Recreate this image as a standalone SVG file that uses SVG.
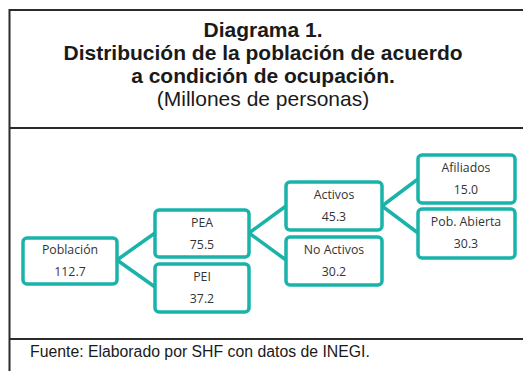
<svg xmlns="http://www.w3.org/2000/svg" width="523" height="371" viewBox="0 0 523 371">
<style>
.frame{fill:none;stroke:#2b2b2b;stroke-width:2}
.box{fill:#fff;stroke:#1ab3aa;stroke-width:3.5}
.edge{stroke:#1ab3aa;stroke-width:3.5;fill:none}
.t{font-family:"Open Sans","Liberation Sans",sans-serif;font-size:12.3px;fill:#333;text-anchor:middle}
.h{font-family:"Liberation Sans",Arial,sans-serif;font-size:21px;font-weight:bold;fill:#1a1a1a;text-anchor:middle}
.s{font-family:"Liberation Sans",Arial,sans-serif;font-size:21px;fill:#1a1a1a;text-anchor:middle}
.f{font-family:"Liberation Sans",Arial,sans-serif;font-size:15.8px;fill:#1a1a1a}
</style>
<rect width="523" height="371" fill="#fff"/>
<path class="frame" d="M530 10H9.5V380M9 128H530M9 339H530"/>
<text class="h" x="263" y="37">Diagrama 1.</text>
<text class="h" x="263" y="60">Distribución de la población de acuerdo</text>
<text class="h" x="263" y="83">a condición de ocupación.</text>
<text class="s" x="263" y="106">(Millones de personas)</text>
<text class="f" x="30" y="357">Fuente: Elaborado por SHF con datos de INEGI.</text>
<g id="connectors">
<path class="edge" d="M117 260L155 233M117 260L155 287"/>
<path class="edge" d="M249 233L286 206M249 233L286 260"/>
<path class="edge" d="M382 206L418 179M382 206L418 233"/>
</g>
<g id="poblacion"><rect class="box" x="23" y="238" width="94" height="46" rx="4"/><text class="t" x="70" y="254">Población</text><text class="t" x="70" y="276">112.7</text></g>
<g id="pea"><rect class="box" x="155" y="210" width="94" height="47" rx="4"/><text class="t" x="202" y="227">PEA</text><text class="t" x="202" y="249">75.5</text></g>
<g id="pei"><rect class="box" x="155" y="264" width="94" height="48" rx="4"/><text class="t" x="202" y="281">PEI</text><text class="t" x="202" y="303">37.2</text></g>
<g id="activos"><rect class="box" x="286" y="182" width="96" height="48" rx="4"/><text class="t" x="334" y="199">Activos</text><text class="t" x="334" y="221">45.3</text></g>
<g id="noactivos"><rect class="box" x="286" y="237" width="96" height="48" rx="4"/><text class="t" x="334" y="254">No Activos</text><text class="t" x="334" y="276">30.2</text></g>
<g id="afiliados"><rect class="box" x="418" y="155" width="97" height="48" rx="4"/><text class="t" x="466" y="172">Afiliados</text><text class="t" x="466" y="194">15.0</text></g>
<g id="pobabierta"><rect class="box" x="418" y="209" width="97" height="49" rx="4"/><text class="t" x="466" y="226">Pob. Abierta</text><text class="t" x="466" y="248">30.3</text></g>
</svg>
